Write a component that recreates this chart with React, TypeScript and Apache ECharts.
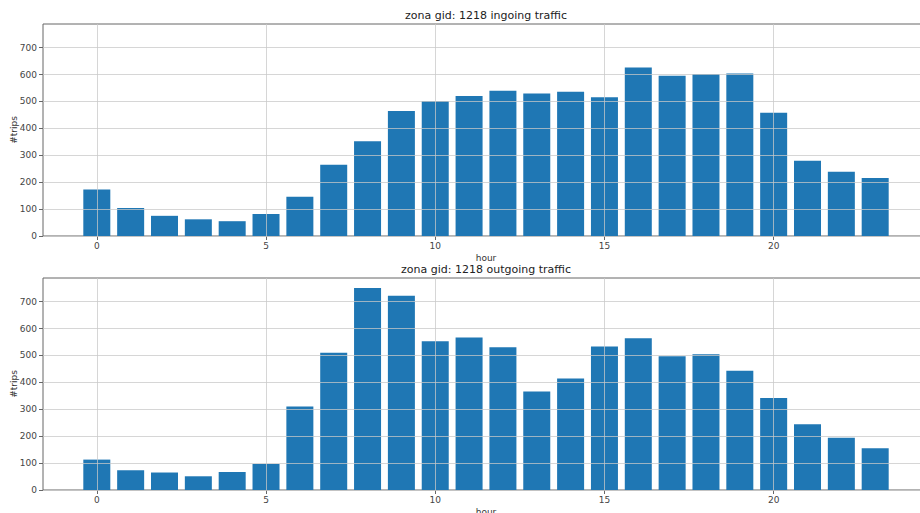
import React, { useEffect, useRef } from "react";
import * as echarts from "echarts";

const hours = [0, 1, 2, 3, 4, 5, 6, 7, 8, 9, 10, 11, 12, 13, 14, 15, 16, 17, 18, 19, 20, 21, 22, 23];
const ingoing = [173, 104, 75, 62, 55, 82, 146, 265, 352, 465, 502, 520, 540, 530, 536, 516, 626, 596, 602, 604, 458, 280, 239, 216];
const outgoing = [113, 73, 65, 51, 67, 97, 310, 510, 751, 722, 553, 567, 531, 366, 414, 533, 564, 497, 505, 443, 342, 244, 194, 155];
const xTicks = [0, 5, 10, 15, 20];
const yTicks = [0, 100, 200, 300, 400, 500, 600, 700];
const titles = ["zona gid: 1218 ingoing traffic", "zona gid: 1218 outgoing traffic"];
const xName = "hour";
const yName = "#trips";

const FONT = "DejaVu Sans";
const X_MIN = -1.59;
const X_MAX = 24.59;
const Y_MAX = 788;

export default function App() {
  const ref = useRef<HTMLDivElement>(null);
  useEffect(() => {
    document.body.style.margin = "0";
    const chart = echarts.init(ref.current!, undefined, { renderer: "svg" });
    const grids = [
      { left: 43, top: 24, width: 886, height: 212 },
      { left: 43, top: 278, width: 886, height: 212 },
    ];
    const seriesData = [ingoing, outgoing];
    const option: any = {
      animation: false,
      backgroundColor: "#ffffff",
      textStyle: { fontFamily: FONT },
      grid: grids.map((g) => ({
        ...g,
        show: true,
        borderColor: "#666",
        borderWidth: 1,
        backgroundColor: "transparent",
        containLabel: false,
        outerBoundsMode: "none",
      })),
      graphic: titles.map((t, i) => ({
        type: "text",
        x: 486,
        y: grids[i].top - 9,
        style: {
          text: t,
          fontFamily: FONT,
          fontSize: 11,
          fill: "#222",
          textAlign: "center",
          textVerticalAlign: "middle",
        },
      })),
      xAxis: grids.map((_, i) => ({
        type: "value",
        gridIndex: i,
        min: X_MIN,
        max: X_MAX,
        name: xName,
        nameLocation: "middle",
        nameGap: 17,
        nameMoveOverlap: false,
        nameTextStyle: { fontFamily: FONT, fontSize: 9, color: "#333" },
        axisLine: { show: false, onZero: false },
        axisTick: {
          show: true,
          length: 4,
          lineStyle: { color: "#666" },
          customValues: xTicks,
        },
        axisLabel: {
          fontFamily: FONT,
          fontSize: 9,
          color: "#444",
          margin: 5,
          customValues: xTicks,
        },
        splitLine: { show: false },
      })),
      yAxis: grids.map((_, i) => ({
        type: "value",
        gridIndex: i,
        min: 0,
        max: Y_MAX,
        interval: 100,
        z: 5,
        name: yName,
        nameLocation: "middle",
        nameRotate: 90,
        nameGap: 25,
        nameMoveOverlap: false,
        nameTextStyle: { fontFamily: FONT, fontSize: 9, color: "#333" },
        axisLine: { show: false, onZero: false },
        axisTick: {
          show: true,
          length: 4,
          lineStyle: { color: "#666" },
          customValues: yTicks,
        },
        axisLabel: {
          fontFamily: FONT,
          fontSize: 9,
          color: "#444",
          margin: 6,
          customValues: yTicks,
        },
        splitLine: {
          show: true,
          lineStyle: { color: "rgba(200,200,200,0.75)", width: 1 },
        },
      })),
      series: seriesData.map((vals, i) => ({
        type: "bar",
        xAxisIndex: i,
        yAxisIndex: i,
        barWidth: 27,
        data: hours.map((h, k) => [h, vals[k]]),
        itemStyle: { color: "#1f77b4" },
        markLine: {
          silent: true,
          symbol: "none",
          z: 6,
          label: { show: false },
          lineStyle: { color: "rgba(200,200,200,0.75)", width: 1, type: "solid" },
          data: xTicks.map((t) => ({ xAxis: t })),
        },
      })),
    };
    chart.setOption(option);
    return () => chart.dispose();
  }, []);
  return (
    <div
      ref={ref}
      style={{ position: "fixed", left: 0, top: 0, width: 920, height: 513 }}
    />
  );
}
